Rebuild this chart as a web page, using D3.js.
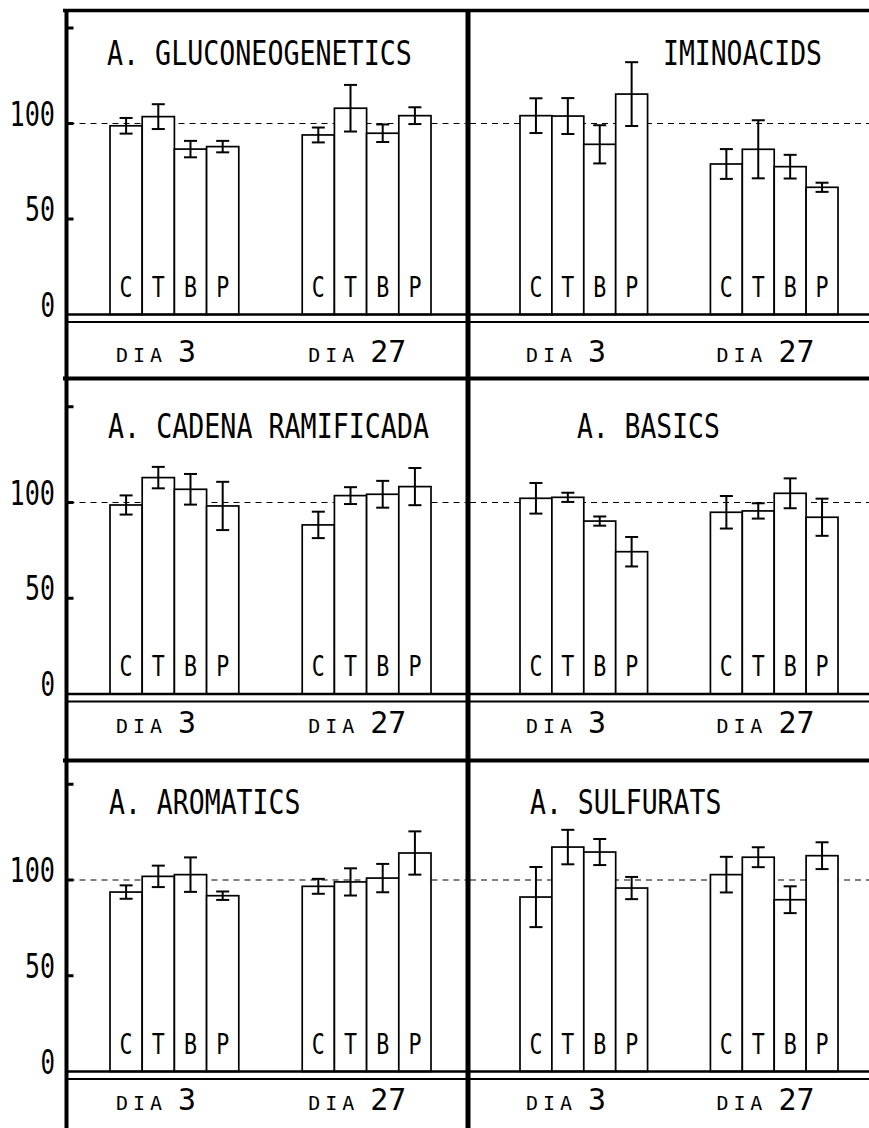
<!DOCTYPE html>
<html><head><meta charset="utf-8">
<script src="https://cdn.jsdelivr.net/npm/d3@7"></script>
<style>html,body{margin:0;padding:0;background:#fff;} svg{display:block}</style>
</head><body>
<svg id="chart" width="869" height="1128"></svg>
<script>
// ---------- data ----------
const groups = ["C", "T", "B", "P"];
const days = ["3", "27"];
const yTickLabels = [0, 50, 100];
const yTickMarks = [50, 100, 150];
const panelTitles = ["A. GLUCONEOGENETICS", "IMINOACIDS", "A. CADENA RAMIFICADA", "A. BASICS", "A. AROMATICS", "A. SULFURATS"];

// values per panel: dia 3 (C,T,B,P) then dia 27 (C,T,B,P)
const gluconeoMean = [98.8, 103.6, 86.6, 87.9, 94.0, 108.0, 94.9, 104.1];
const gluconeoErr  = [4.1, 6.5, 4.3, 3.0, 3.9, 12.2, 4.6, 4.4];
const iminoMean    = [104.1, 103.9, 89.1, 115.4, 78.8, 86.5, 77.4, 66.6];
const iminoErr     = [9.1, 9.4, 10.0, 16.7, 7.8, 15.2, 6.2, 2.4];
const cadenaMean   = [98.7, 113.0, 106.9, 98.2, 88.3, 103.6, 104.3, 108.3];
const cadenaErr    = [5.0, 5.6, 8.0, 12.6, 6.9, 4.4, 7.0, 9.7];
const basicsMean   = [102.2, 102.7, 90.3, 74.3, 94.9, 95.6, 104.8, 92.3];
const basicsErr    = [8.0, 2.4, 2.4, 7.7, 8.5, 4.0, 7.8, 9.7];
const aromMean     = [93.7, 101.9, 102.8, 91.8, 96.7, 99.0, 101.0, 114.1];
const aromErr      = [3.5, 5.6, 9.0, 2.2, 3.9, 7.1, 7.4, 11.3];
const sulfMean     = [91.1, 117.2, 114.6, 95.8, 102.8, 111.9, 89.7, 112.7];
const sulfErr      = [15.7, 9.0, 6.8, 5.8, 9.3, 5.2, 7.0, 7.0];

const panelMeans = [gluconeoMean, iminoMean, cadenaMean, basicsMean, aromMean, sulfMean];
const panelErrs  = [gluconeoErr, iminoErr, cadenaErr, basicsErr, aromErr, sulfErr];

// ---------- layout ----------
const W = 869, H = 1128;
const rows = [
  {top: 10.5, y0: 314.5, y100: 123.5, titleY: 65, diaY: 362},
  {top: 378.5, y0: 694, y100: 502.5, titleY: 438, diaY: 733},
  {top: 760.5, y0: 1071.5, y100: 880, titleY: 814, diaY: 1110}
];
const cols = [
  {axisX: 66.5, right: 468, x0: 110, x1: 431},
  {axisX: 468, right: 869, x0: 520, x1: 838}
];
const titleXs = [107, 663, 108, 577, 109, 530];
const MONO = "'DejaVu Sans Mono', 'Liberation Mono', monospace";

const svg = d3.select("#chart");
svg.append("rect").attr("width", W).attr("height", H).attr("fill", "#fff");

panelTitles.forEach((title, i) => {
  const r = rows[Math.floor(i / 2)];
  const c = cols[i % 2];
  const mean = panelMeans[i], err = panelErrs[i];
  const g = svg.append("g");

  const y = d3.scaleLinear().domain([0, 100]).range([r.y0, r.y100]);
  const xDay = d3.scaleBand().domain(days).range([c.x0, c.x1]).paddingInner(0.33).paddingOuter(0);
  const xGrp = d3.scaleBand().domain(groups).range([0, xDay.bandwidth()]).padding(0);

  const recs = [];
  days.forEach((d, di) => groups.forEach((k, ki) => {
    recs.push({day: d, grp: k, v: mean[di * 4 + ki], e: err[di * 4 + ki]});
  }));

  // dashed 100 reference
  g.append("line")
    .attr("x1", c.axisX + 2).attr("x2", c.right)
    .attr("y1", y(100)).attr("y2", y(100))
    .attr("stroke", "#000").attr("stroke-width", 1.2)
    .attr("stroke-dasharray", "6,5");

  // bars
  g.selectAll("rect.bar").data(recs).join("rect")
    .attr("class", "bar")
    .attr("x", d => xDay(d.day) + xGrp(d.grp))
    .attr("width", xGrp.bandwidth())
    .attr("y", d => y(d.v))
    .attr("height", d => y(0) - y(d.v))
    .attr("fill", "#fff").attr("stroke", "#000").attr("stroke-width", 1.7);

  // error bars
  const eb = g.selectAll("g.err").data(recs).join("g").attr("class", "err")
    .attr("stroke", "#000").attr("stroke-width", 2);
  const cx = d => xDay(d.day) + xGrp(d.grp) + xGrp.bandwidth() / 2;
  eb.append("line").attr("x1", cx).attr("x2", cx)
    .attr("y1", d => y(d.v + d.e)).attr("y2", d => y(d.v - d.e));
  eb.append("line").attr("x1", d => cx(d) - 6.5).attr("x2", d => cx(d) + 6.5)
    .attr("y1", d => y(d.v + d.e)).attr("y2", d => y(d.v + d.e));
  eb.append("line").attr("x1", d => cx(d) - 6.5).attr("x2", d => cx(d) + 6.5)
    .attr("y1", d => y(d.v - d.e)).attr("y2", d => y(d.v - d.e));

  // letters in bars
  g.selectAll("text.lbl").data(recs).join("text")
    .attr("class", "lbl")
    .attr("x", d => cx(d) - 6.5).attr("y", r.y0 - 18)
    .attr("font-family", MONO).attr("font-size", 28)
    .attr("textLength", 13).attr("lengthAdjust", "spacingAndGlyphs")
    .text(d => d.grp);

  // baselines (double)
  g.append("line").attr("x1", c.axisX).attr("x2", c.right)
    .attr("y1", r.y0).attr("y2", r.y0)
    .attr("stroke", "#000").attr("stroke-width", 2.6);
  g.append("line").attr("x1", c.axisX).attr("x2", c.right)
    .attr("y1", r.y0 + 7.5).attr("y2", r.y0 + 7.5)
    .attr("stroke", "#000").attr("stroke-width", 2);

  // day labels
  days.forEach(d => {
    const x = xDay(d) + 6;
    g.append("text").attr("x", x).attr("y", r.diaY)
      .attr("font-family", MONO).attr("font-size", 20)
      .attr("textLength", 46).attr("lengthAdjust", "spacing")
      .text("DIA");
    g.append("text").attr("x", x + 62).attr("y", r.diaY)
      .attr("font-family", MONO).attr("font-size", 31)
      .attr("textLength", d.length * 18).attr("lengthAdjust", "spacingAndGlyphs")
      .text(d);
  });

  // title
  g.append("text").attr("x", titleXs[i]).attr("y", r.titleY)
    .attr("font-family", MONO).attr("font-size", 33)
    .attr("textLength", title.length * 16.2 - 3).attr("lengthAdjust", "spacingAndGlyphs")
    .text(title);

  // y axis labels on left column only
  if (i % 2 === 0) {
    g.selectAll("text.ytl").data(yTickLabels).join("text")
      .attr("class", "ytl")
      .attr("x", 55).attr("y", v => y(v) + 2)
      .attr("text-anchor", "end")
      .attr("font-family", MONO).attr("font-size", 34)
      .attr("textLength", v => String(v).length * 15.5 - 1).attr("lengthAdjust", "spacingAndGlyphs")
      .text(v => v);
    g.selectAll("line.ytm").data(yTickMarks).join("line")
      .attr("class", "ytm")
      .attr("x1", c.axisX).attr("x2", c.axisX + 7)
      .attr("y1", v => y(v)).attr("y2", v => y(v))
      .attr("stroke", "#000").attr("stroke-width", 3);
  }
});

// frame lines
const frame = svg.append("g").attr("stroke", "#000");
frame.append("line").attr("x1", 63).attr("x2", W).attr("y1", rows[0].top).attr("y2", rows[0].top).attr("stroke-width", 3.5);
[rows[1].top, rows[2].top].forEach(t => {
  frame.append("line").attr("x1", 63).attr("x2", W).attr("y1", t).attr("y2", t).attr("stroke-width", 4);
});
frame.append("line").attr("x1", cols[0].axisX).attr("x2", cols[0].axisX).attr("y1", 9).attr("y2", H).attr("stroke-width", 4);
frame.append("line").attr("x1", cols[1].axisX).attr("x2", cols[1].axisX).attr("y1", 9).attr("y2", H).attr("stroke-width", 5);
</script>
</body></html>
